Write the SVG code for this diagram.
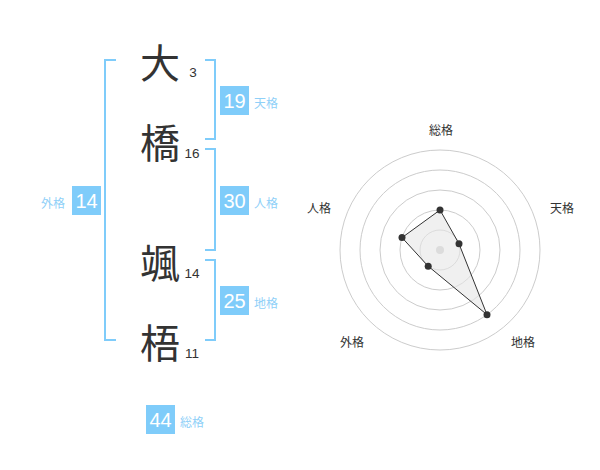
<svg xmlns="http://www.w3.org/2000/svg" width="600" height="470" viewBox="0 0 600 470">
<style>
.kanji{font-family:"Noto Sans CJK JP","Noto Sans CJK SC",sans-serif;font-size:40px;fill:#333;text-anchor:middle}
.stroke{font-family:"Liberation Sans",Arial,sans-serif;font-size:13.5px;fill:#333;text-anchor:middle}
.box{fill:#7fccfa}
.num{font-family:"Liberation Sans",Arial,sans-serif;font-size:20px;fill:#fff;text-anchor:middle}
.lbl{font-family:"Noto Sans CJK JP","Noto Sans CJK SC",sans-serif;font-size:12px;fill:#8fd0f8}
.br{fill:none;stroke:#7fccfa;stroke-width:2}
.ring{fill:none;stroke:#ccc;stroke-width:1}
.axis{font-family:"Noto Sans CJK JP","Noto Sans CJK SC",sans-serif;font-size:12px;fill:#333;text-anchor:middle}
.dot{fill:#333}
</style>
<rect width="600" height="470" fill="#fff"/>
<g id="connectors">
<path class="br" d="M116,60 H105 V340 H116"/>
<path class="br" d="M205,60 H215 V139 H205"/>
<path class="br" d="M205,149 H215 V250 H205"/>
<path class="br" d="M205,260 H215 V340 H205"/>
</g>
<g id="char1"><text class="kanji" x="160" y="78">大</text><text class="stroke" x="193" y="77">3</text></g>
<g id="char2"><text class="kanji" x="160" y="158">橋</text><text class="stroke" x="192" y="158">16</text></g>
<g id="char3"><text class="kanji" x="160" y="278">颯</text><text class="stroke" x="192" y="278">14</text></g>
<g id="char4"><text class="kanji" x="160" y="358">梧</text><text class="stroke" x="192" y="358">11</text></g>
<g id="tenkaku"><rect class="box" x="220" y="86" width="29" height="29"/><text class="num" x="234.5" y="108">19</text><text class="lbl" x="254" y="108">天格</text></g>
<g id="jinkaku"><rect class="box" x="220" y="186" width="29" height="29"/><text class="num" x="234.5" y="208">30</text><text class="lbl" x="254" y="208">人格</text></g>
<g id="chikaku"><rect class="box" x="220" y="286" width="29" height="29"/><text class="num" x="234.5" y="308">25</text><text class="lbl" x="254" y="308">地格</text></g>
<g id="gaikaku"><rect class="box" x="72" y="186" width="29" height="29"/><text class="num" x="86.5" y="208">14</text><text class="lbl" x="41" y="208">外格</text></g>
<g id="soukaku"><rect class="box" x="146" y="405" width="29" height="29"/><text class="num" x="160.5" y="427">44</text><text class="lbl" x="180" y="427">総格</text></g>
<g id="radar">
<circle class="ring" cx="440" cy="250" r="20"/>
<circle class="ring" cx="440" cy="250" r="40"/>
<circle class="ring" cx="440" cy="250" r="60"/>
<circle class="ring" cx="440" cy="250" r="80"/>
<circle class="ring" cx="440" cy="250" r="100"/>
<circle cx="440" cy="250" r="4" fill="#ccc"/>
<polygon points="440,210 459,243.8 487,314.7 428.2,266.2 402,237.6" fill="#e6e6e6" fill-opacity="0.6" stroke="#333" stroke-width="1"/>
<circle class="dot" cx="440" cy="210" r="3.5"/>
<circle class="dot" cx="459" cy="243.8" r="3.5"/>
<circle class="dot" cx="487" cy="314.7" r="3.5"/>
<circle class="dot" cx="428.2" cy="266.2" r="3.5"/>
<circle class="dot" cx="402" cy="237.6" r="3.5"/>
<text class="axis" x="441" y="135">総格</text>
<text class="axis" x="562" y="213">天格</text>
<text class="axis" x="319" y="213">人格</text>
<text class="axis" x="352" y="347">外格</text>
<text class="axis" x="523" y="347">地格</text>
</g>
</svg>
